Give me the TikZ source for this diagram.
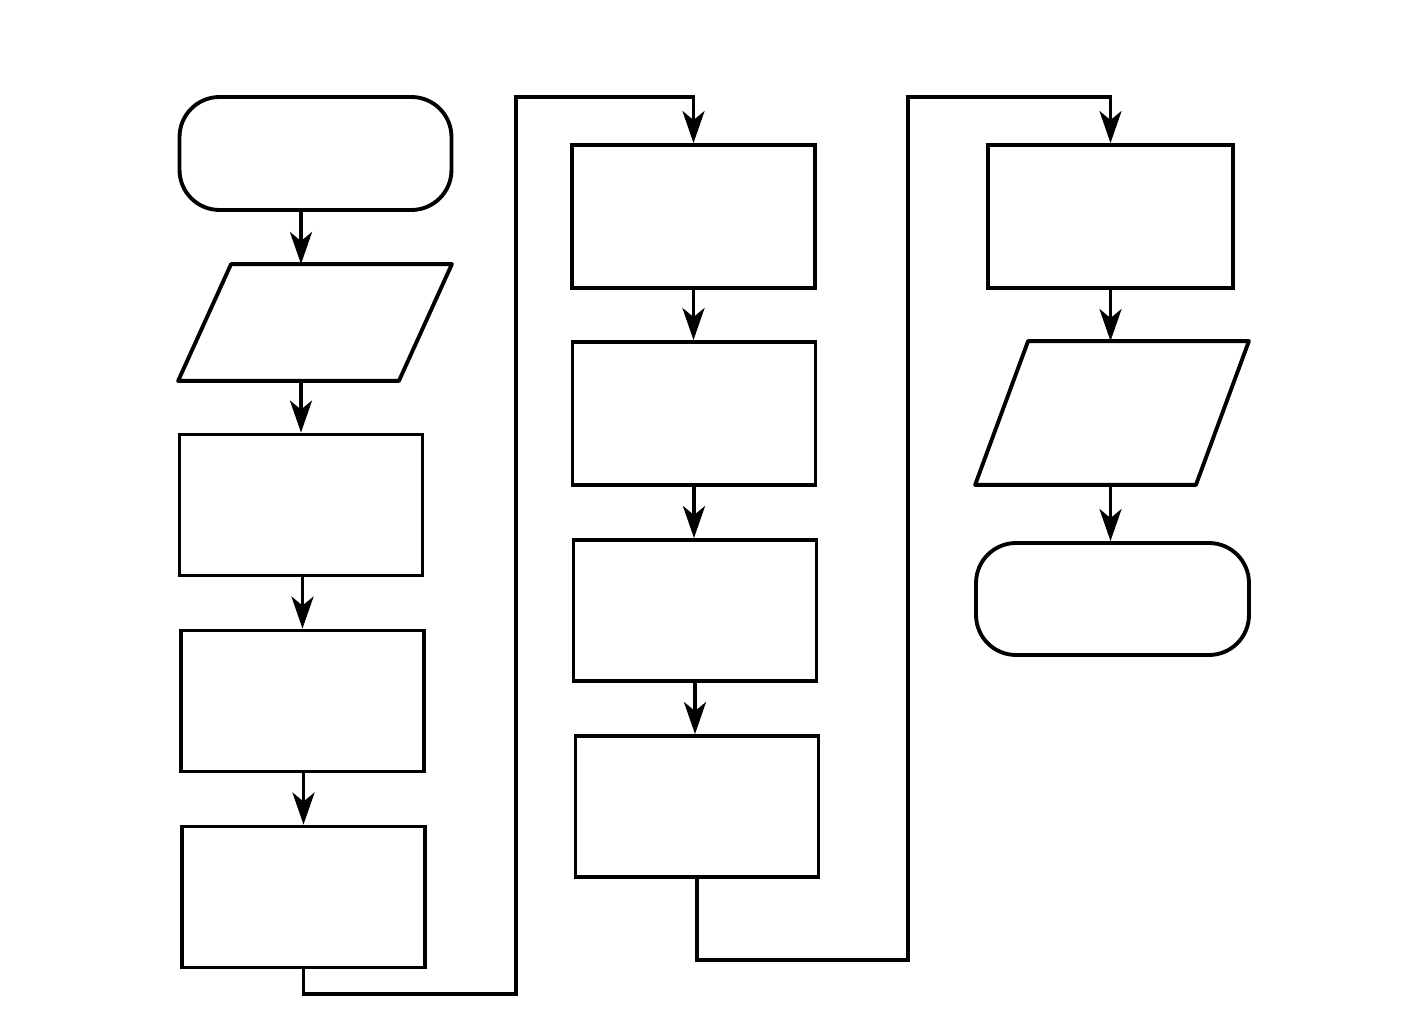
\documentclass[tikz,border=0pt]{standalone}
\usepackage{tikz}
\usetikzlibrary{arrows.meta}

\begin{document}
\begin{tikzpicture}[x=0.02cm, y=-0.02cm, line width=2.2pt,
		box/.style={draw, rectangle, inner sep=0pt, minimum width=4.86cm, minimum height=2.82cm},
		term/.style={draw, rectangle, rounded corners=0.8cm, inner sep=0pt, minimum width=5.44cm, minimum height=2.26cm},
		io/.style={rectangle, inner sep=0pt, minimum width=5.4cm},
		arr/.style={-{Stealth[length=6.4mm, width=4.4mm, inset=1.8mm]}}]
				\useasboundingbox (0,0) rectangle (1417,1026);
				
				\node[term] (start) at (315.5,153.5) {};
				\node[io, minimum height=2.26cm] (in1) at (315,322.5) {};
				\draw[line join=round] ([xshift=1.06cm]in1.north west) -- (in1.north east) -- ([xshift=-1.06cm]in1.south east) -- (in1.south west) -- cycle;
				\node[box] (p1) at (301,505) {};
				\node[box] (p2) at (302.5,701) {};
				\node[box] (p3) at (303.5,897) {};
				
				\node[box, minimum height=2.86cm] (q1) at (693.5,216.5) {};
				\node[box, minimum height=2.86cm] (q2) at (694,413.5) {};
				\node[box] (q3) at (695,610.5) {};
				\node[box] (q4) at (697,806.5) {};
				
				\node[box, minimum width=4.9cm, minimum height=2.86cm] (r1) at (1110.5,216.5) {};
				\node[io, minimum height=2.8cm] (out1) at (1112,413) {};
				\draw[line join=round] ([xshift=1.06cm]out1.north west) -- (out1.north east) -- ([xshift=-1.06cm]out1.south east) -- (out1.south west) -- cycle;
				\node[term, minimum width=5.46cm, minimum height=2.24cm] (stop) at (1112.5,599) {};
				
				\draw[arr] (start.south -| p1) -- (in1.north -| p1);
				\draw[arr] (in1.south -| p1) -- (p1.north);
				\draw[arr] (p1.south -| p2) -- (p2.north);
				\draw[arr] (p2.south -| p3) -- (p3.north);
				
				\coordinate (a1) at (516,994);
				\coordinate (a2) at (693.5,97);
				\draw[arr] (p3.south) |- (a1) |- (a2) -- (q1.north);
				
				\draw[arr] (q1.south) -- (q1.south |- q2.north);
				\draw[arr] (q2.south) -- (q2.south |- q3.north);
				\draw[arr] (q3.south) -- (q3.south |- q4.north);
				
				\coordinate (b1) at (908,960);
				\coordinate (b2) at (1110.5,97);
				\draw[arr] (q4.south) |- (b1) |- (b2) -- (r1.north);
				
				\draw[arr] (r1.south) -- (r1.south |- out1.north);
				\draw[arr] (out1.south -| r1) -- (stop.north -| r1);
			\end{tikzpicture}
\end{document}
